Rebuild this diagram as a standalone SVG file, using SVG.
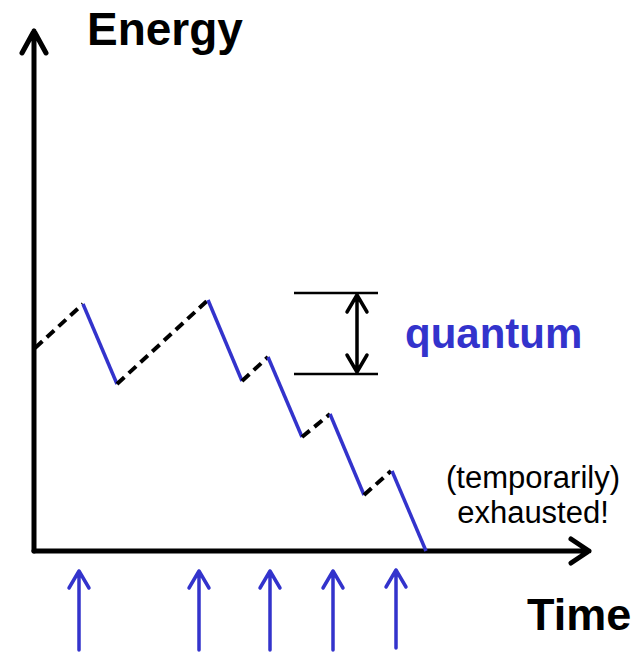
<svg xmlns="http://www.w3.org/2000/svg" width="635" height="653" viewBox="0 0 635 653">
<style>
.axis{stroke:#000;stroke-width:5;fill:none;stroke-linecap:round;stroke-linejoin:round}
.dash{stroke:#000;stroke-width:4;fill:none;stroke-dasharray:10,6}
.blue{stroke:#3333cc;stroke-width:3.5;fill:none}
.barrow{stroke:#3333cc;stroke-width:3.5;fill:none;stroke-linecap:round;stroke-linejoin:round}
.q{stroke:#000;stroke-width:2.5;fill:none}
.qa{stroke:#000;stroke-width:3.5;fill:none;stroke-linecap:round;stroke-linejoin:round}
.lbl{font-family:"Liberation Sans",Arial,sans-serif;font-weight:bold;fill:#000}
.note{font-family:"Liberation Sans",Arial,sans-serif;fill:#000;font-size:31px}
</style>
<rect width="635" height="653" fill="#fff"/>
<g id="axes">
<path class="axis" d="M34,551 V31 M22,53 L34,31 L46,53"/>
<path class="axis" d="M34,551 H589 M571,539 L589,551 L571,563"/>
</g>
<g id="connectors">
<path class="dash" d="M35,348 L83,304"/>
<path class="blue" d="M83,304 L117,384"/>
<path class="dash" d="M117,384 L208,300"/>
<path class="blue" d="M208,300 L242,381"/>
<path class="dash" d="M242,381 L268,357"/>
<path class="blue" d="M268,357 L302,437"/>
<path class="dash" d="M302,437 L330,414"/>
<path class="blue" d="M330,414 L364,495"/>
<path class="dash" d="M364,495 L391,471"/>
<path class="blue" d="M392,471 L426,551"/>
</g>
<g id="quantum">
<path class="q" d="M294,293 H378 M294,374 H378"/>
<path class="qa" d="M357,294 V373 M347,312 L357,295 L367,312 M347,355 L357,372 L367,355"/>
<text x="405" y="348" font-size="42" fill="#3333cc" style="font-family:'Liberation Sans',Arial,sans-serif;font-weight:bold">quantum</text>
</g>
<g id="labels">
<text class="lbl" x="87" y="45" font-size="46">Energy</text>
<text class="lbl" x="527" y="630" font-size="45">Time</text>
<text class="note" x="533" y="488" text-anchor="middle">(temporarily)</text>
<text class="note" x="533" y="523" text-anchor="middle">exhausted!</text>
</g>
<g id="events">
<path class="barrow" d="M79,650 V571 M69,588 L79,571 L89,588"/>
<path class="barrow" d="M199,650 V571 M189,588 L199,571 L209,588"/>
<path class="barrow" d="M270,650 V571 M260,588 L270,571 L280,588"/>
<path class="barrow" d="M333,650 V571 M323,588 L333,571 L343,588"/>
<path class="barrow" d="M396,648 V570 M386,587 L396,570 L406,587"/>
</g>
</svg>
